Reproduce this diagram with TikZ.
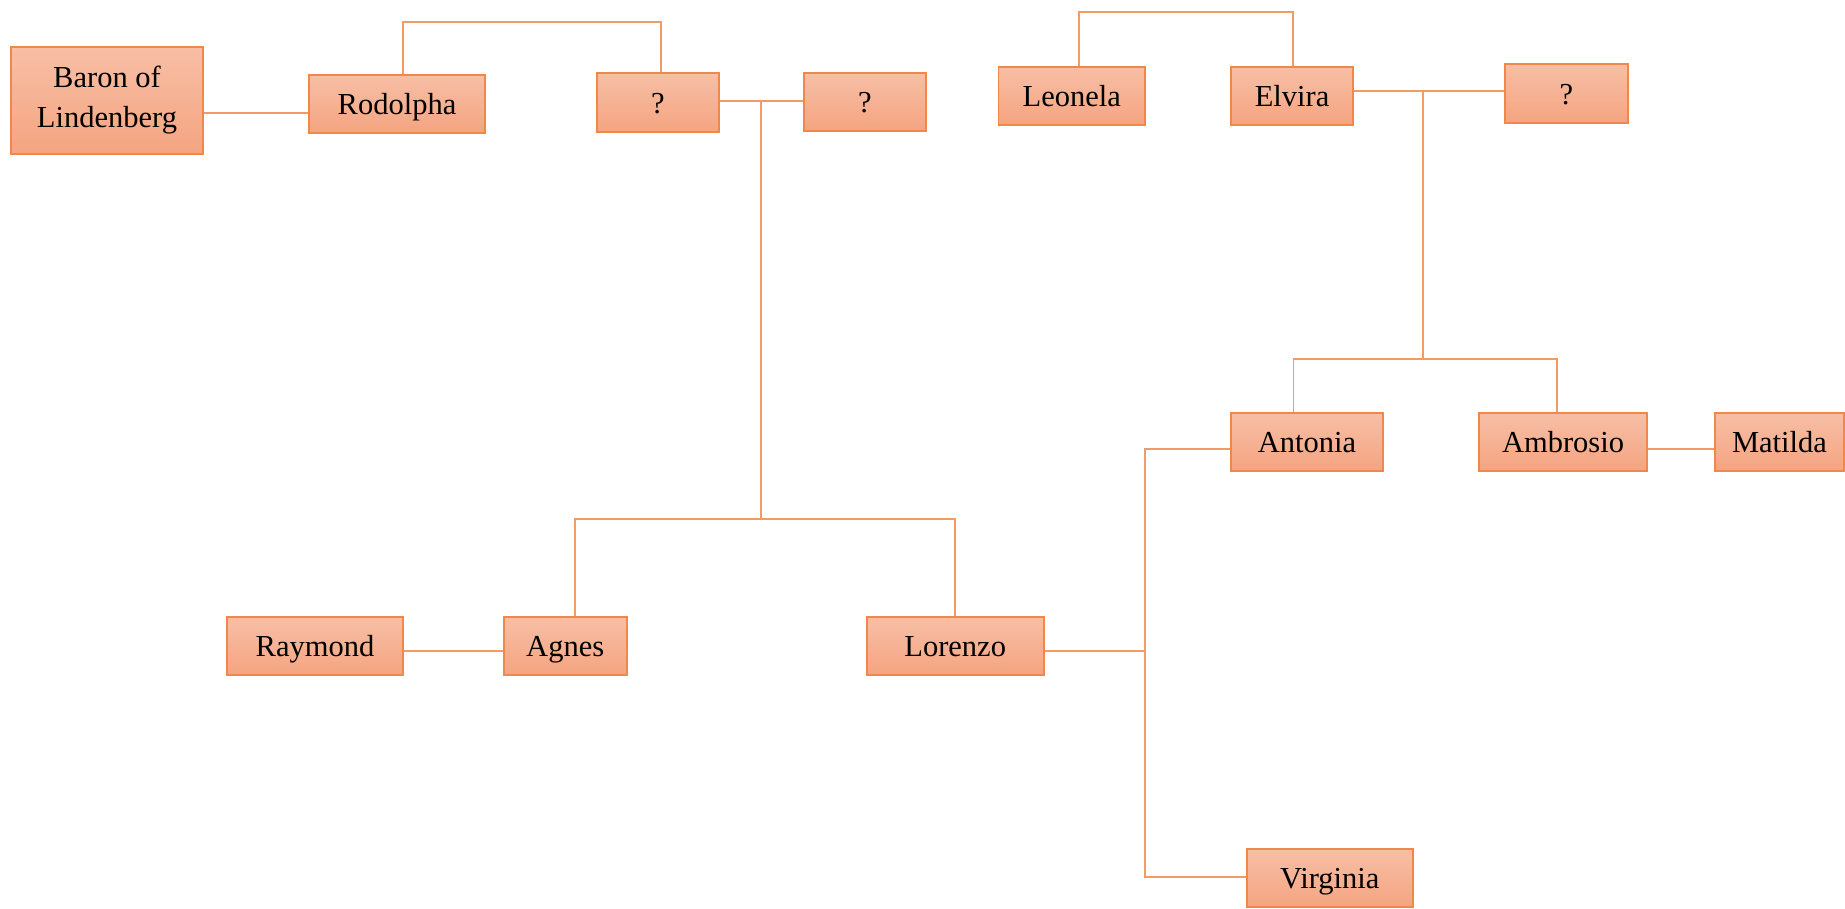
\documentclass[tikz,border=0pt]{standalone}
\usepackage{fontspec}
\setmainfont{Liberation Serif}
\definecolor{boxtop}{RGB}{247,191,166}
\definecolor{boxbot}{RGB}{245,164,128}
\definecolor{boxline}{RGB}{241,135,72}
\definecolor{conn}{RGB}{243,155,100}
\tikzset{
  person/.style={draw=boxline, line width=1.8pt, top color=boxtop, bottom color=boxbot,
    inner sep=0pt, minimum height=58pt, text height=29.4pt, text depth=8pt,
    font=\fontsize{30.5}{40}\selectfont},
  tallperson/.style={draw=boxline, line width=1.8pt, top color=boxtop, bottom color=boxbot,
    inner sep=0pt, align=center, font=\fontsize{30.5}{40}\selectfont},
  link/.style={draw=conn, line width=1.8pt}
}
\begin{document}
\begin{tikzpicture}[x=1pt,y=-1pt]
\useasboundingbox (0,0) rectangle (1845,908);
% nodes
\node[tallperson, minimum width=192pt, minimum height=107pt] (baron) at (107,100.5) {Baron of\\Lindenberg};
\node[person, minimum width=176pt] (rodolpha) at (397,104) {Rodolpha};
\node[person, minimum width=122pt, minimum height=59pt] (q1) at (658,102.5) {?};
\node[person, minimum width=122pt] (q2) at (865,102) {?};
\node[person, minimum width=146.5pt] (leonela) at (1071.8,95.8) {Leonela};
\node[person, minimum width=122pt] (elvira) at (1292,95.8) {Elvira};
\node[person, minimum width=123pt, minimum height=59pt] (q3) at (1566.5,93.5) {?};
\node[person, minimum width=152pt] (antonia) at (1307,441.8) {Antonia};
\node[person, minimum width=168pt] (ambrosio) at (1563,441.8) {Ambrosio};
\node[person, minimum width=129pt] (matilda) at (1779.5,441.8) {Matilda};
\node[person, minimum width=176pt] (raymond) at (315,645.8) {Raymond};
\node[person, minimum width=123pt] (agnes) at (565.2,645.8) {Agnes};
\node[person, minimum width=177pt] (lorenzo) at (955.2,645.8) {Lorenzo};
\node[person, minimum width=166pt] (virginia) at (1329.8,878) {Virginia};
% junction coordinates
\coordinate (m1) at (760.6,100.7);
\coordinate (b1) at (760.6,519);
\coordinate (m2) at (1423,90.7);
\coordinate (b2) at (1423,359);
\coordinate (v) at (1145,650.7);
% connectors
\draw[link] ([yshift=-12.2pt]baron.east) -- ([yshift=-8.7pt]rodolpha.west);
\draw[link] ([xshift=6pt]rodolpha.north) -- ++(0,-52.3) -| ([xshift=2.6pt]q1.north);
\draw[link] (q1.east |- m1) -- (q2.west |- m1);
\draw[link] (m1) -- (b1);
\draw[link] ([xshift=9.8pt]agnes.north) |- (b1) -| (lorenzo.north);
\draw[link] ([yshift=-4.9pt]raymond.east) -- ([yshift=-4.9pt]agnes.west);
\draw[link] ([yshift=-4.9pt]lorenzo.east) -- (v);
\draw[link] ([yshift=-6.9pt]antonia.west) -| (v) |- ([yshift=1.3pt]virginia.west);
\draw[link] ([xshift=7.2pt]leonela.north) -- ++(0,-54) -| ([xshift=1pt]elvira.north);
\draw[link] (elvira.east |- m2) -- (q3.west |- m2);
\draw[link] (m2) -- (b2);
\draw[link] ([xshift=-13.6pt]antonia.north) |- (b2) -| ([xshift=-6.4pt]ambrosio.north);
\draw[link] ([yshift=-6.9pt]ambrosio.east) -- ([yshift=-6.9pt]matilda.west);
\end{tikzpicture}
\end{document}
